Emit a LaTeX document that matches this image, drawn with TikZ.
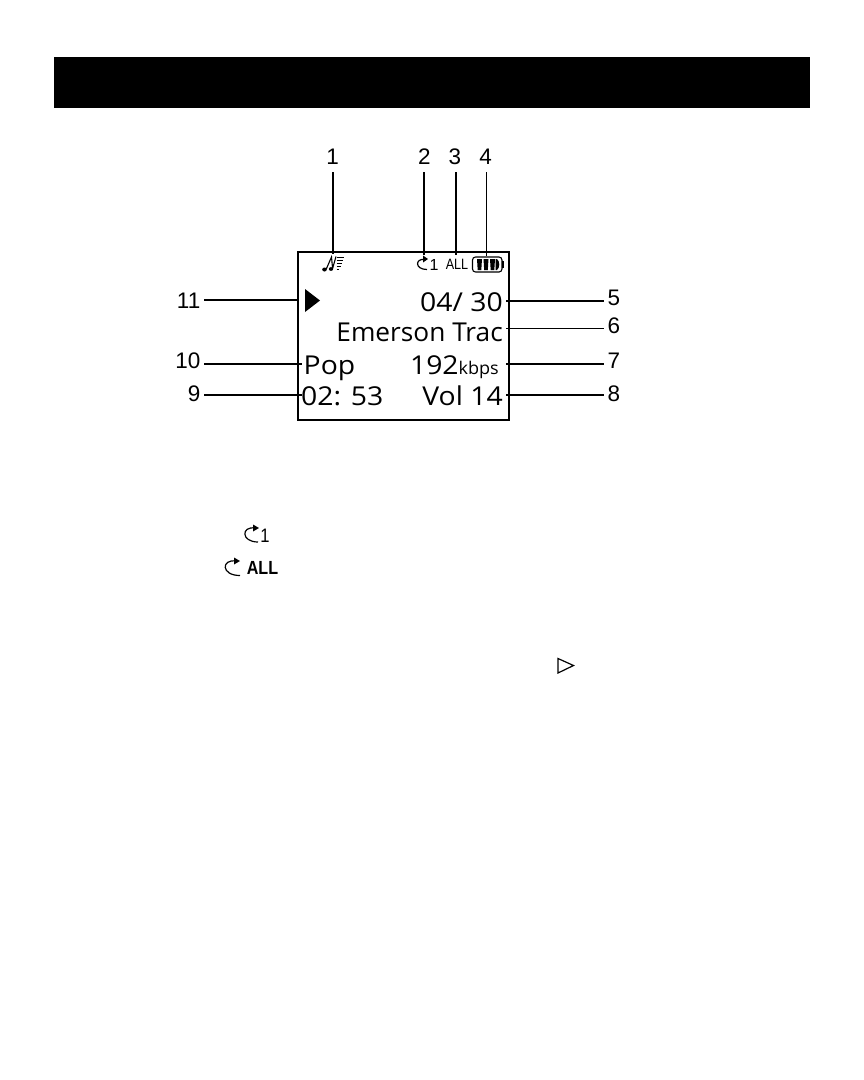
\documentclass[tikz,border=0pt]{standalone}
\usepackage{fontspec}
\setmainfont{Liberation Sans}
\newfontfamily\lcdfont{Open Sans}
\newcommand{\lcdwide}[1]{\scalebox{1.09}[1]{\lcdfont #1}}
\usetikzlibrary{arrows.meta}
\tikzset{
  num/.style={inner sep=0pt,font=\fontsize{22.5}{22.5}\selectfont,text=black,anchor=base},
  lead/.style={draw=black,line width=1.9pt},
  leadmid/.style={draw=black,line width=1.3pt},
  leadthin/.style={draw=black,line width=0.8pt},
  lcd/.style={inner sep=0pt,anchor=base east,font=\fontsize{26}{26}\selectfont},
  lcdl/.style={inner sep=0pt,anchor=base west,font=\fontsize{26}{26}\selectfont},
  repeatarc/.style={draw=black,line width=1.2pt},
}
\begin{document}
\begin{tikzpicture}[x=1pt,y=-1pt]
\useasboundingbox (0,0) rectangle (864,1080);
\fill[white] (0,0) rectangle (864,1080);
% header band
\fill[black] (54,57) rectangle (810,108);
% display frame
\node[draw=black,line width=1.5pt,outer sep=0pt,minimum width=211pt,minimum height=168pt,inner sep=0pt,anchor=north west] (lcd) at (298,252) {};

% display readouts
\node[lcd] (track) at (503,311.5) {\lcdwide{04/ 30}};
\node[lcd] (title) at (503,341) {\scalebox{1.01}[1]{\lcdfont Emerson Trac}};
\node[lcdl] (genre) at (303.5,374) {\lcdwide{Pop}};
\node[inner sep=0pt,anchor=base east] (rate) at (499,374) {{\fontsize{26}{26}\selectfont\lcdwide{192}}{\fontsize{17.5}{17.5}\selectfont\scalebox{1.03}[1]{\lcdfont kbps}}};
\node[lcdl] (elapsed) at (301,405.5) {\lcdwide{02: 53}};
\node[lcd] (volume) at (503,405.5) {\lcdwide{Vol 14}};
\fill[black] (305,289) -- (320,300.5) -- (305,312) -- cycle;
\coordinate (playtip) at (298,300);

% status icons along the top of the display
\coordinate (noteicon) at (333,254);
\fill[black] (324.5,269.5) ellipse (2.3pt and 2pt);
\fill[black] (331,269) ellipse (2.2pt and 1.9pt);
\draw[black,line width=1.1pt] (326.3,269) -- (331.5,257) -- (332.6,268.5);
\draw[black,line width=1.1pt] (332.6,268.5) -- (336,256.5);
\foreach \y/\e in {257/344,260/343,263/342,266/341,269/339}
  \draw[black,line width=0.9pt] (336.5,\y) -- (\e,\y);
\draw[repeatarc] (425,259.5) .. controls (415,258) and (414.5,269.5) .. (427,269.5);
\fill[black] (423,255.5) -- (428,259) -- (423,262.5) -- cycle;
\coordinate (repeaticon) at (424.3,255);
\node[inner sep=0pt,font=\fontsize{16}{16}\selectfont] (one) at (434,265) {1};
\node[inner sep=0pt,font=\fontsize{15}{15}\selectfont] (allmark) at (457,264.5) {\scalebox{0.84}[1]{ALL}};
% battery gauge
\draw[black,line width=1.1pt,rounded corners=3pt] (472.5,257) rectangle (502,272);
\fill[black] (502,261) rectangle (504,268);
\foreach \x in {477,483.5,490} \fill[black] (\x,259) -- (\x+5,259) -- (\x+4.3,270) -- (\x+0.7,270) -- cycle;
\fill[black] (495.5,259) -- (497,259) .. controls (500,261) and (500,268) .. (497,270) -- (495.5,270) -- cycle;
\coordinate (batt) at (486.3,256);
\coordinate (allnote) at (456,255);

% callout numbers
\node[num] (n1) at (332.7,164) {1};
\node[num] (n2) at (424.3,164) {2};
\node[num] (n3) at (455,164) {3};
\node[num] (n4) at (485.7,164) {4};
\node[num,anchor=base west] (n5) at (607.5,305) {5};
\node[num,anchor=base west] (n6) at (607.5,333) {6};
\node[num,anchor=base west] (n7) at (607.5,368) {7};
\node[num,anchor=base west] (n8) at (607.5,401) {8};
\node[num,anchor=base east] (n9) at (200.5,401) {9};
\node[num,anchor=base east] (n10) at (200.5,368) {10};
\node[num,anchor=base east] (n11) at (200.5,308) {11};

% leader lines
\coordinate (r5) at (506,301);
\coordinate (r6) at (506,328.4);
\coordinate (r7) at (506,364);
\coordinate (r8) at (506,395);
\coordinate (l9) at (302,395);
\coordinate (l10) at (302,364);
\draw[lead] (noteicon |- n1.south) ++(0,8) -- (noteicon);
\draw[lead] (repeaticon |- n2.south) ++(0,8) -- (repeaticon);
\draw[lead] (allnote |- n3.south) ++(0,8) -- (allnote);
\draw[leadmid] (batt |- n4.south) ++(0,8) -- (batt);
\draw[lead,shorten >=3.5pt] (r5) -- (n5.west |- r5);
\draw[leadthin,shorten >=3.5pt] (r6) -- (n6.west |- r6);
\draw[lead,shorten >=3.5pt] (r7) -- (n7.west |- r7);
\draw[lead,shorten >=3.5pt] (r8) -- (n8.west |- r8);
\draw[lead] (n9.east |- l9) ++(3.5,0) -- (l9);
\draw[lead] (n10.east |- l10) ++(3.5,0) -- (l10);
\draw[lead] (n11.east |- playtip) ++(3.5,0) -- (playtip);

% icons printed in the body text
\draw[repeatarc] (255,528) .. controls (241,526) and (241,542) .. (258,542);
\fill[black] (253,524.5) -- (259,528) -- (253,531.5) -- cycle;
\node[inner sep=0pt,font=\fontsize{19.5}{19.5}\selectfont] (onebig) at (265,535.5) {\scalebox{0.85}[1]{1}};
\draw[repeatarc] (236,561) .. controls (221,559) and (221,575.5) .. (240,575.5);
\fill[black] (234,557.5) -- (240,561) -- (234,564.5) -- cycle;
\node[inner sep=0pt,font=\bfseries\fontsize{19}{19}\selectfont] (allbig) at (262.5,567.5) {\scalebox{0.85}[1]{ALL}};
\draw[black,line width=1.2pt,line join=miter] (558,658.5) -- (573.5,665.5) -- (558,673) -- cycle;
\end{tikzpicture}
\end{document}
